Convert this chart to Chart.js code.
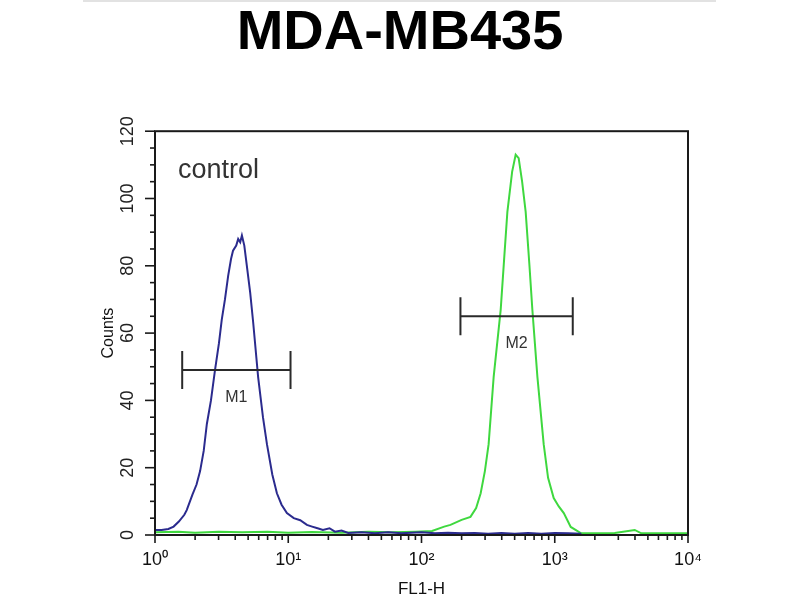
<!DOCTYPE html>
<html>
<head>
<meta charset="utf-8">
<script src="https://cdn.jsdelivr.net/npm/chart.js@4.4.1/dist/chart.umd.min.js"></script>
<style>
  html, body { margin: 0; padding: 0; background: #ffffff; }
  canvas { display: block; }
</style>
</head>
<body>
<canvas id="c" width="800" height="600"></canvas>
<script>
// ---- data ----
const chartTitle = 'MDA-MB435';
const sampleLabel = 'control';
const xAxisTitle = 'FL1-H';
const yAxisTitle = 'Counts';

// FL1-H channel values and counts, blue histogram
const blueX = [1.00, 1.12, 1.26, 1.38, 1.51, 1.66, 1.73, 1.91, 2.05, 2.18, 2.32, 2.45, 2.63, 2.82, 3.02, 3.17, 3.35, 3.54, 3.72, 3.85,
               4.07, 4.21, 4.36, 4.49, 4.68, 4.89, 5.18, 5.46, 5.94, 6.46, 6.92, 7.59, 8.22, 8.91, 9.77, 11.0, 12.3, 13.8, 15.1, 16.6,
               18.2, 20.4, 22.4, 25.1, 28.2, 35.5, 44.7, 56.2, 70.8, 100, 126, 158, 200, 251, 316, 398, 501, 631, 794, 1000, 1259, 1585];
const blueY = [1.5, 1.5, 1.8, 2.5, 4, 6, 7.4, 12, 15, 19, 25, 33, 40, 49, 57, 64, 70, 77, 82, 84.5,
               86, 88, 87, 89, 86, 80, 72, 63, 47, 35, 27, 18, 12.4, 9, 6.5, 5, 4.4, 3, 2.5, 2,
               1.5, 2, 1, 1.3, 0.6, 0.8, 0.5, 0.8, 0.5, 0.8, 0.5, 0.7, 0.5, 0.6, 0.4, 0.6, 0.4, 0.6, 0.4, 0.6, 0.5, 0.4];

// FL1-H channel values and counts, green histogram
const greenX = [1.0, 1.5, 2.0, 3.0, 4.5, 7, 10, 15, 25, 40, 60, 90, 120, 148, 165, 200, 233, 257, 278, 299,
                319, 348, 393, 417, 441, 479, 509, 536, 569, 605, 646, 679, 741, 826, 891, 982, 1072, 1169, 1318, 1567,
                2000, 2818, 3981, 4467, 6310, 10000];
const greenY = [0.8, 1.0, 0.7, 1.0, 0.8, 1.0, 0.7, 0.9, 0.7, 1.0, 0.8, 1.0, 1.2, 2.5, 3, 4.5, 5.4, 8, 12.4, 19,
                27, 47, 67, 82, 96, 108, 113, 112, 105, 96, 80, 67, 47, 27, 17, 11, 8.5, 6.5, 2.4, 0.6,
                0.5, 0.6, 1.5, 0.5, 0.5, 0.5];

// gates (markers)
const gateLabels = ['M1', 'M2'];
const gateFrom = [1.6, 196];
const gateTo = [10.4, 1365];
const gateLevel = [49, 65];

// tick labels
const xMajorTicks = [1, 10, 100, 1000, 10000];
const xTickLabels = ['10\u2070', '10\u00B9', '10\u00B2', '10\u00B3', '10\u2074'];
const yTickLabels = ['0', '20', '40', '60', '80', '100', '120'];

// ---- chart ----
const FONT = "'Liberation Sans', Arial, Helvetica, sans-serif";
Chart.defaults.font.family = FONT;

const toPts = (xs, ys) => xs.map((v, i) => ({ x: v, y: ys[i] }));

const xTickValues = [];
xMajorTicks.forEach((m, i) => {
  xTickValues.push(m);
  if (i < xMajorTicks.length - 1) for (let k = 2; k <= 9; k++) xTickValues.push(m * k);
});

const gateDatasets = gateLabels.map((lab, i) => ({
  label: lab,
  yAxisID: 'y',
  data: [{ x: gateFrom[i], y: gateLevel[i] }, { x: gateTo[i], y: gateLevel[i] }],
  borderColor: '#2a2a2a',
  borderWidth: 2,
  pointStyle: 'line',
  pointRotation: 90,
  pointRadius: 19,
  pointHoverRadius: 19,
  pointBorderWidth: 2,
  pointBorderColor: '#2a2a2a',
  fill: false
}));

const decor = {
  id: 'decor',
  beforeDraw(chart) {
    const { ctx } = chart;
    ctx.save();
    ctx.strokeStyle = '#e2e2e2';
    ctx.lineWidth = 2;
    ctx.beginPath(); ctx.moveTo(83, 1); ctx.lineTo(716, 1); ctx.stroke();
    ctx.restore();
  },
  afterDatasetsDraw(chart) {
    const { ctx, chartArea: a, scales } = chart;
    const x = scales.x, y = scales.y;
    ctx.save();
    // frame
    ctx.strokeStyle = '#1a1a1a';
    ctx.lineWidth = 2;
    ctx.strokeRect(a.left, a.top, a.right - a.left, a.bottom - a.top);
    // y tick marks
    ctx.lineWidth = 1.6;
    y.ticks.forEach(t => {
      const py = y.getPixelForValue(t.value);
      const len = yTickLabels.includes(String(t.value)) ? 10 : 5;
      ctx.beginPath(); ctx.moveTo(a.left - len, py); ctx.lineTo(a.left, py); ctx.stroke();
    });
    // x tick marks
    x.ticks.forEach(t => {
      const px = x.getPixelForValue(t.value);
      const len = xMajorTicks.includes(t.value) ? 8 : 5;
      ctx.beginPath(); ctx.moveTo(px, a.bottom); ctx.lineTo(px, a.bottom + len); ctx.stroke();
    });
    // gate labels
    ctx.fillStyle = '#333';
    ctx.font = '16px ' + FONT;
    ctx.textAlign = 'center';
    ctx.textBaseline = 'middle';
    gateLabels.forEach((lab, i) => {
      const px = x.getPixelForValue(Math.sqrt(gateFrom[i] * gateTo[i]));
      const py = y.getPixelForValue(gateLevel[i]) + 27;
      ctx.fillText(lab, px, py);
    });
    // sample label
    ctx.font = '27px ' + FONT;
    ctx.textAlign = 'left';
    ctx.fillText(sampleLabel, a.left + 23, a.top + 39);
    ctx.restore();
  }
};

new Chart(document.getElementById('c'), {
  type: 'line',
  data: {
    datasets: [
      ...gateDatasets,
      { label: 'control', yAxisID: 'y', data: toPts(blueX, blueY), borderColor: '#2b2b8e', borderWidth: 2, pointRadius: 0, tension: 0, fill: false },
      { label: 'sample', yAxisID: 'y', data: toPts(greenX, greenY), borderColor: '#3fd83f', borderWidth: 2, pointRadius: 0, tension: 0, fill: false }
    ]
  },
  options: {
    responsive: false,
    animation: false,
    devicePixelRatio: 1,
    layout: { padding: { left: 0, right: 0, top: 0, bottom: 0 } },
    plugins: {
      legend: { display: false },
      tooltip: { enabled: false },
      title: {
        display: true,
        text: chartTitle,
        color: '#000',
        font: { size: 56, weight: 'bold', family: FONT },
        padding: { top: 0, bottom: 64 }
      }
    },
    scales: {
      x: {
        type: 'logarithmic',
        min: 1,
        max: 10000,
        afterBuildTicks: (scale) => { scale.ticks = xTickValues.map(v => ({ value: v })); },
        afterFit: (scale) => { scale.height = 65; },
        grid: { display: false, drawTicks: true, tickLength: 8 },
        border: { display: false },
        ticks: {
          autoSkip: false,
          minRotation: 0,
          maxRotation: 0,
          padding: 6,
          color: '#111',
          font: { size: 18 },
          callback: (v) => { const i = xMajorTicks.indexOf(v); return i >= 0 ? xTickLabels[i] : ''; }
        },
        title: { display: true, text: xAxisTitle, color: '#111', font: { size: 17 }, padding: { top: 0, bottom: 0 } }
      },
      y: {
        type: 'linear',
        position: 'left',
        min: 0,
        max: 120,
        afterFit: (scale) => { scale.width = 155; },
        grid: { display: false, drawTicks: true, tickLength: 10 },
        border: { display: false },
        ticks: {
          stepSize: 5,
          autoSkip: false,
          minRotation: 90,
          maxRotation: 90,
          crossAlign: 'center',
          padding: 2,
          color: '#222',
          font: { size: 18 },
          callback: (v) => yTickLabels.includes(String(v)) ? String(v) : ''
        },
        title: { display: true, text: yAxisTitle, color: '#111', font: { size: 16 }, padding: { top: 99, bottom: 0 } }
      },
      yRight: {
        type: 'linear',
        position: 'right',
        display: true,
        min: 0,
        max: 120,
        afterFit: (scale) => { scale.width = 112; },
        grid: { display: false, drawTicks: false },
        border: { display: false },
        ticks: { display: false }
      }
    }
  },
  plugins: [decor]
});
</script>
</body>
</html>
